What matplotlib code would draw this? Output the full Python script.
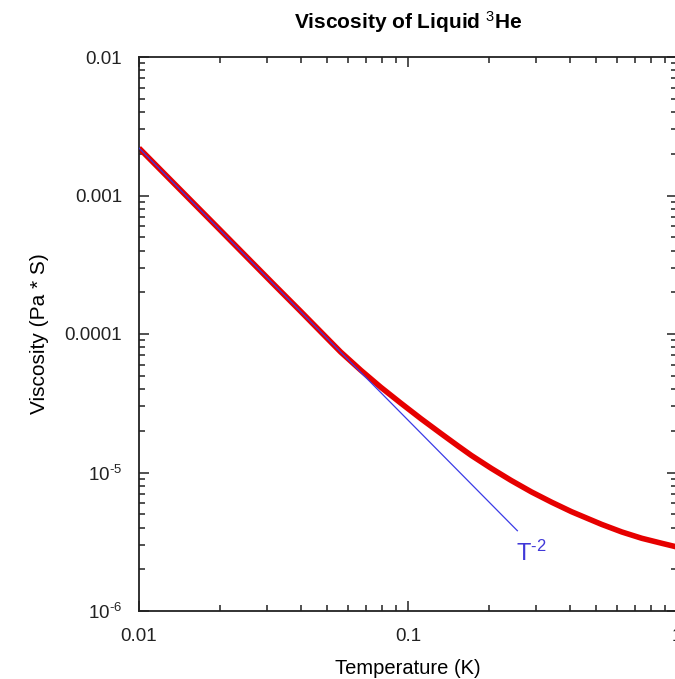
import numpy as np
import matplotlib
matplotlib.use('Agg')
import matplotlib.pyplot as plt
from matplotlib.ticker import FixedLocator, FixedFormatter, LogLocator, NullFormatter

plt.rcParams['font.family'] = ['Liberation Sans', 'DejaVu Sans']
plt.rcParams['mathtext.fontset'] = 'custom'
plt.rcParams['mathtext.rm'] = 'Liberation Sans'
plt.rcParams['mathtext.it'] = 'Liberation Sans:italic'
plt.rcParams['mathtext.bf'] = 'Liberation Sans:bold'

temp_K = [0.01, 0.0125, 0.016, 0.02, 0.025, 0.032, 0.04, 0.05, 0.0562, 0.0668,
          0.0793, 0.0942, 0.1119, 0.1327, 0.1538, 0.1718, 0.2042, 0.2421,
          0.2877, 0.342, 0.4055, 0.5248, 0.6237, 0.7396, 0.879, 0.984, 1.0]
visc = [2.2e-3, 1.42e-3, 8.75e-4, 5.65e-4, 3.64e-4, 2.24e-4, 1.45e-4, 9.33e-5,
        7.41e-5, 5.47e-5, 4.12e-5, 3.16e-5, 2.44e-5, 1.91e-5, 1.55e-5, 1.33e-5,
        1.07e-5, 8.75e-6, 7.24e-6, 6.10e-6, 5.21e-6, 4.22e-6, 3.72e-6,
        3.35e-6, 3.08e-6, 2.92e-6, 2.89e-6]

# T^-2 guide line
fit_T = [0.01, 0.255]
fit_visc = [2.2e-3, 3.8e-6]

y_ticks = [1e-6, 1e-5, 1e-4, 1e-3, 1e-2]
y_labels = [r'10$^{\text{-6}}$', r'10$^{\text{-5}}$', '0.0001', '0.001', '0.01']
x_ticks = [0.01, 0.1, 1]
x_labels = ['0.01', '0.1', '1']

fig = plt.figure(figsize=(6.75, 6.79), dpi=100)
ax = fig.add_axes([139 / 675, 68 / 679, 538 / 675, 554 / 679])

ax.plot(temp_K, visc, color='#e60000', linewidth=4.0, solid_capstyle='butt', zorder=2)
ax.plot(fit_T, fit_visc, color='#3a3ae6', linewidth=0.9, zorder=3)
ax.text(0.252, 2.6e-6, r'T$^{\text{-2}}$', color='#4038d8', fontsize=17, ha='left', va='center')

ax.set_xscale('log')
ax.set_yscale('log')
ax.set_xlim(0.01, 1)
ax.set_ylim(1e-6, 1e-2)

ax.xaxis.set_major_locator(FixedLocator(x_ticks))
ax.xaxis.set_major_formatter(FixedFormatter(x_labels))
ax.xaxis.set_minor_locator(LogLocator(base=10, subs=np.arange(2, 10)))
ax.xaxis.set_minor_formatter(NullFormatter())
ax.yaxis.set_major_locator(FixedLocator(y_ticks))
ax.yaxis.set_major_formatter(FixedFormatter(y_labels))
ax.yaxis.set_minor_locator(LogLocator(base=10, subs=np.arange(2, 10)))
ax.yaxis.set_minor_formatter(NullFormatter())

ax.tick_params(which='both', direction='in', top=True, right=True, width=1.1, colors='#222222')
ax.tick_params(which='major', length=7.5, labelsize=13.5)
ax.tick_params(which='minor', length=4.5)
ax.tick_params(axis='y', which='major', pad=12)
ax.tick_params(axis='x', which='major', pad=12)
for s in ax.spines.values():
    s.set_linewidth(1.3)
    s.set_color('#222222')

ax.set_xlabel('Temperature (K)', fontsize=14.5, labelpad=10)
ax.set_ylabel('Viscosity (Pa * S)', fontsize=15, labelpad=11)
ax.set_title('Viscosity of Liquid $^3$He', fontsize=15, fontweight='bold', pad=20)

fig.savefig('out.png', dpi=100)
